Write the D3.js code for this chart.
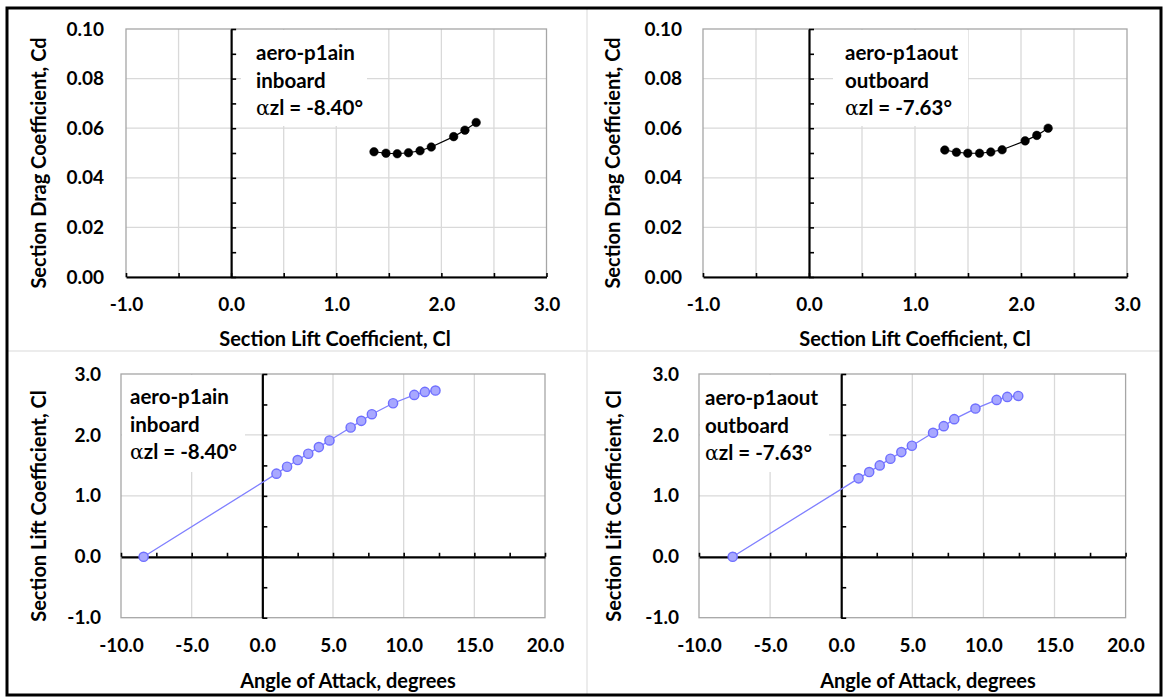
<!DOCTYPE html>
<html>
<head>
<meta charset="utf-8">
<script src="https://cdn.jsdelivr.net/npm/d3@7"></script>
<style>
  html, body { margin: 0; padding: 0; background: #ffffff; }
  svg { display: block; }
  text { font-family: Lato, "Open Sans", sans-serif; font-weight: 700; fill: #000; }
</style>
</head>
<body>
<svg id="chart" width="1167" height="698"></svg>
<script>
// ---------------- data ----------------
const inboardName = ["aero-p1ain", "inboard"];
const inboardAzl = -8.40;
const inboardAlpha = [1.0, 1.75, 2.5, 3.25, 4.0, 4.75, 6.25, 7.0, 7.75, 9.25, 10.75, 11.5, 12.25];
const inboardCl = [1.364, 1.478, 1.588, 1.691, 1.800, 1.909, 2.122, 2.231, 2.340, 2.520, 2.657, 2.706, 2.728];
const inboardDragCl = [1.359, 1.473, 1.580, 1.687, 1.797, 1.904, 2.117, 2.224, 2.331];
const inboardCd = [0.0505, 0.0499, 0.0497, 0.0501, 0.0509, 0.0524, 0.0566, 0.0592, 0.0623];

const outboardName = ["aero-p1aout", "outboard"];
const outboardAzl = -7.63;
const outboardAlpha = [1.22, 1.97, 2.71, 3.46, 4.23, 4.97, 6.46, 7.21, 7.95, 9.44, 10.93, 11.68, 12.45];
const outboardCl = [1.287, 1.391, 1.500, 1.609, 1.718, 1.822, 2.035, 2.144, 2.259, 2.433, 2.575, 2.624, 2.640];
const outboardDragCl = [1.281, 1.391, 1.498, 1.609, 1.715, 1.822, 2.039, 2.149, 2.256];
const outboardCd = [0.0512, 0.0503, 0.0499, 0.0499, 0.0504, 0.0513, 0.0549, 0.0571, 0.0600];

// tick labels
const clTicks = [-1.0, 0.0, 1.0, 2.0, 3.0];
const cdTicks = [0.00, 0.02, 0.04, 0.06, 0.08, 0.10];
const alphaTicks = [-10, -5, 0, 5, 10, 15, 20];
const liftTicks = [-1, 0, 1, 2, 3];

const polarTitles = { x: "Section Lift Coefficient, Cl", y: "Section Drag Coefficient, Cd" };
const liftTitles = { x: "Angle of Attack, degrees", y: "Section Lift Coefficient, Cl" };

// ---------------- drawing ----------------
const svg = d3.select("#chart");

// faint panel separators
svg.append("line").attr("x1", 587).attr("x2", 587).attr("y1", 9).attr("y2", 694)
  .attr("stroke", "#e6e6e6").attr("stroke-width", 1.5);
svg.append("line").attr("x1", 8).attr("x2", 1160).attr("y1", 351).attr("y2", 351)
  .attr("stroke", "#e6e6e6").attr("stroke-width", 1.5);

const GRID = "#d9d9d9";
const TICK_FS = "19px", TITLE_FS = "20px", NOTE_FS = "20.5px";

function panel(cfg) {
  const g = svg.append("g");
  const x = d3.scaleLinear().domain(cfg.xDomain).range([cfg.left, cfg.right]);
  const y = d3.scaleLinear().domain(cfg.yDomain).range([cfg.bottom, cfg.top]);

  // gridlines
  g.append("g").selectAll("line").data(cfg.xGrid).join("line")
    .attr("x1", d => x(d)).attr("x2", d => x(d))
    .attr("y1", cfg.top).attr("y2", cfg.bottom)
    .attr("stroke", GRID).attr("stroke-width", 1.3);
  g.append("g").selectAll("line").data(cfg.yGrid).join("line")
    .attr("x1", cfg.left).attr("x2", cfg.right)
    .attr("y1", d => y(d)).attr("y2", d => y(d))
    .attr("stroke", GRID).attr("stroke-width", 1.3);

  // plot area border
  g.append("rect").attr("x", cfg.left).attr("y", cfg.top)
    .attr("width", cfg.right - cfg.left).attr("height", cfg.bottom - cfg.top)
    .attr("fill", "none").attr("stroke", "#a6a6a6").attr("stroke-width", 1.3);

  // annotation box (white, hides gridlines)
  g.append("rect").attr("x", cfg.box[0]).attr("y", cfg.box[1])
    .attr("width", cfg.box[2]).attr("height", cfg.box[3]).attr("fill", "#fff");

  // axes through zero with inside ticks
  const xAxis = d3.axisBottom(x).tickValues(cfg.xMinor).tickSize(-4).tickSizeOuter(0).tickFormat("");
  const xa = g.append("g").attr("transform", `translate(0,${y(0)})`).call(xAxis);
  const yAxis = d3.axisLeft(y).tickValues(cfg.yMinor).tickSize(-5).tickSizeOuter(0).tickFormat("");
  const ya = g.append("g").attr("transform", `translate(${x(0)},0)`).call(yAxis);
  [xa, ya].forEach(a => {
    a.select(".domain").attr("stroke", "#000").attr("stroke-width", 2.2);
    a.selectAll(".tick line").attr("stroke", "#000").attr("stroke-width", 1.6);
  });

  // tick labels
  const xl = g.append("g").attr("transform", `translate(0,${cfg.bottom})`)
    .call(d3.axisBottom(x).tickValues(cfg.xTicks).tickSize(0).tickPadding(cfg.xPad)
      .tickFormat(d => d.toFixed(1)));
  const yl = g.append("g").attr("transform", `translate(${cfg.left},0)`)
    .call(d3.axisLeft(y).tickValues(cfg.yTicks).tickSize(0).tickPadding(cfg.yPad)
      .tickFormat(d => d.toFixed(cfg.yDec)));
  [xl, yl].forEach(a => {
    a.select(".domain").remove();
    a.selectAll("text").style("font-family", "Lato, sans-serif").style("font-weight", 700)
      .style("font-size", TICK_FS).attr("fill", "#000");
  });

  // axis titles
  g.append("text").attr("x", cfg.xTitle[0]).attr("y", cfg.xTitle[1])
    .attr("text-anchor", "middle").attr("dominant-baseline", "central")
    .style("font-size", TITLE_FS).text(cfg.titles.x);
  g.append("text")
    .attr("transform", `translate(${cfg.yTitle[0]},${cfg.yTitle[1]}) rotate(-90)`)
    .attr("text-anchor", "middle").attr("dominant-baseline", "central")
    .style("font-size", TITLE_FS).text(cfg.titles.y);

  // annotation text
  const lines = [cfg.name[0], cfg.name[1]];
  lines.forEach((t, i) => {
    g.append("text").attr("x", cfg.note[0]).attr("y", cfg.note[1] + i * cfg.note[2])
      .style("font-size", NOTE_FS).text(t);
  });
  const t3 = g.append("text").attr("x", cfg.note[0]).attr("y", cfg.note[1] + 2 * cfg.note[2])
    .style("font-size", NOTE_FS);
  t3.append("tspan").style("font-family", "'DejaVu Serif', serif").style("font-weight", 400).text("α");
  t3.append("tspan").text("zl = " + cfg.azl.toFixed(2) + "°");

  // data line + markers
  const pts = cfg.xs.map((v, i) => [v, cfg.ys[i]]);
  g.append("path").datum(pts)
    .attr("d", d3.line().x(d => x(d[0])).y(d => y(d[1])))
    .attr("fill", "none").attr("stroke", cfg.lineColor).attr("stroke-width", cfg.lineWidth);
  g.append("g").selectAll("circle").data(pts).join("circle")
    .attr("cx", d => x(d[0])).attr("cy", d => y(d[1])).attr("r", cfg.r)
    .attr("fill", cfg.fill).attr("stroke", cfg.stroke).attr("stroke-width", cfg.strokeWidth);
}

const clMinor = d3.range(-1, 3.001, 0.5);
const cdMinor = d3.range(0, 0.1001, 0.01);
const clGrid = [-0.5, 0.5, 1.0, 1.5, 2.0, 2.5];
const cdGrid = [0.02, 0.04, 0.06, 0.08];
const alphaMinor = d3.range(-10, 20.001, 2.5);
const liftMinor = d3.range(-1, 3.001, 0.5);
const alphaGrid = [-5, 5, 10, 15];
const liftGrid = [1, 2];

const polarStyle = { lineColor: "#000", lineWidth: 1.2, r: 4.3, fill: "#000", stroke: "#000", strokeWidth: 0.5 };
const liftStyle = { lineColor: "#7f7fff", lineWidth: 1.3, r: 4.6, fill: "#a8a8ff", stroke: "#6f6fff", strokeWidth: 1.4 };

// Top-left: inboard drag polar
panel(Object.assign({
  xDomain: [-1, 3], yDomain: [0, 0.1], left: 126, right: 546.5, top: 29, bottom: 277,
  xGrid: clGrid, yGrid: cdGrid, xMinor: clMinor, yMinor: cdMinor,
  xTicks: clTicks, yTicks: cdTicks, yDec: 2, xPad: 21, yPad: 22,
  xTitle: [335, 338], yTitle: [38, 163], titles: polarTitles,
  box: [241, 30, 126, 96], note: [256, 60, 27.5], name: inboardName, azl: inboardAzl,
  xs: inboardDragCl, ys: inboardCd
}, polarStyle));

// Top-right: outboard drag polar
panel(Object.assign({
  xDomain: [-1, 3], yDomain: [0, 0.1], left: 703, right: 1127, top: 29, bottom: 277,
  xGrid: clGrid, yGrid: cdGrid, xMinor: clMinor, yMinor: cdMinor,
  xTicks: clTicks, yTicks: cdTicks, yDec: 2, xPad: 21, yPad: 21,
  xTitle: [915, 338], yTitle: [612, 163], titles: polarTitles,
  box: [833, 30, 135, 96], note: [845, 60, 27.5], name: outboardName, azl: outboardAzl,
  xs: outboardDragCl, ys: outboardCd
}, polarStyle));

// Bottom-left: inboard lift curve
panel(Object.assign({
  xDomain: [-10, 20], yDomain: [-1, 3], left: 121, right: 545, top: 374, bottom: 617.7,
  xGrid: alphaGrid, yGrid: liftGrid, xMinor: alphaMinor, yMinor: liftMinor,
  xTicks: alphaTicks, yTicks: liftTicks, yDec: 1, xPad: 21, yPad: 20,
  xTitle: [348, 680], yTitle: [37.6, 506], titles: liftTitles,
  box: [122, 375, 123, 97], note: [130, 404, 27.5], name: inboardName, azl: inboardAzl,
  xs: [inboardAzl].concat(inboardAlpha), ys: [0].concat(inboardCl)
}, liftStyle));

// Bottom-right: outboard lift curve
panel(Object.assign({
  xDomain: [-10, 20], yDomain: [-1, 3], left: 699, right: 1125.6, top: 374, bottom: 617.7,
  xGrid: alphaGrid, yGrid: liftGrid, xMinor: alphaMinor, yMinor: liftMinor,
  xTicks: alphaTicks, yTicks: liftTicks, yDec: 1, xPad: 21, yPad: 20,
  xTitle: [928, 680], yTitle: [613, 506], titles: liftTitles,
  box: [700, 375, 129, 97], note: [705, 405, 27.5], name: outboardName, azl: outboardAzl,
  xs: [outboardAzl].concat(outboardAlpha), ys: [0].concat(outboardCl)
}, liftStyle));

// outer frame
svg.append("rect").attr("x", 7).attr("y", 8).attr("width", 1154).attr("height", 687)
  .attr("fill", "none").attr("stroke", "#000").attr("stroke-width", 3);
</script>
</body>
</html>
